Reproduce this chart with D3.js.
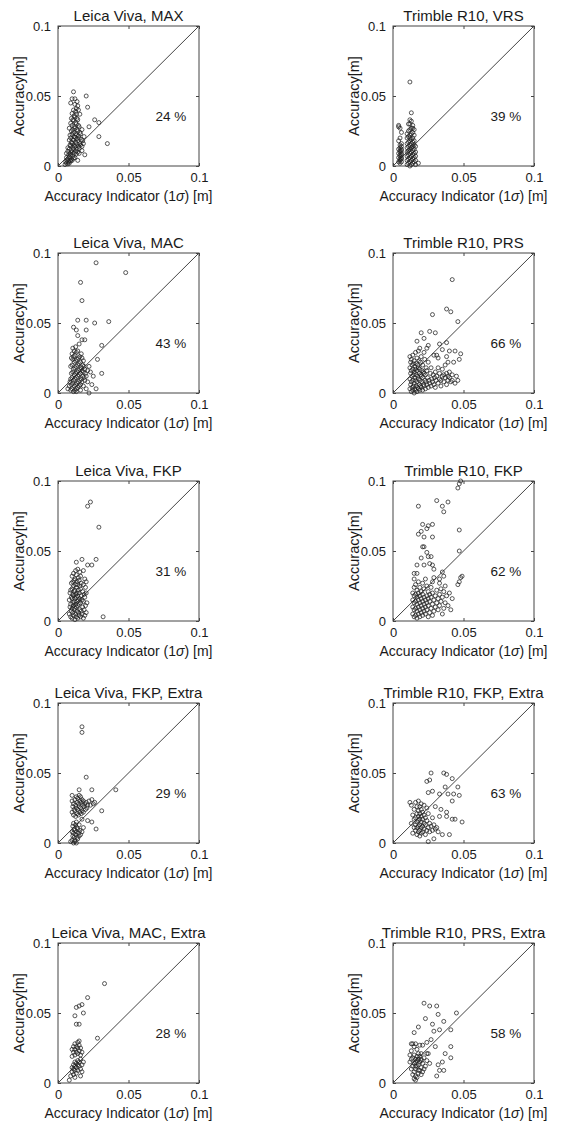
<!DOCTYPE html>
<html>
<head>
<meta charset="utf-8">
<script src="https://cdn.jsdelivr.net/npm/d3@7"></script>
<style>
  body { margin: 0; background: #fff; }
  text { font-family: "Liberation Sans", Arial, sans-serif; fill: #1a1a1a; }
</style>
</head>
<body>
<div id="chart"></div>
<script>
// values in millimetres, shown on axes as metres
var tickVals = [0, 50, 100];
var tickLabels = ["0", "0.05", "0.1"];

var titles = ["Leica Viva, MAX", "Trimble R10, VRS",
  "Leica Viva, MAC", "Trimble R10, PRS",
  "Leica Viva, FKP", "Trimble R10, FKP",
  "Leica Viva, FKP, Extra", "Trimble R10, FKP, Extra",
  "Leica Viva, MAC, Extra", "Trimble R10, PRS, Extra"];

var percents = [24, 39, 43, 66, 31, 62, 29, 63, 28, 58];

var leicaMax = [[5,1],[5.5,3],[6,2],[6.5,4],[6,6],[7,1.5],[7.5,3],[7,5],[7.5,8],[7,10.5],[8,2],[8.5,4],[8,6.5],[8.5,9],[8,12],
  [8.5,15],[8,18.5],[8.5,22],[9,3.5],[9.5,5],[9,8],[9.5,11],[9,14.5],[9.5,17],[9,20],[9.5,25],[9,30.5],[9.5,34],[9,45],[10,4],
  [10.5,7],[10,10],[10.5,13.5],[10,16],[10.5,19],[10,22.5],[10.5,26],[10,29],[10.5,33],[10,37.5],[10,48],[11,5.5],[11.5,9],
  [11,12],[11.5,15],[11,18.5],[11.5,21],[11,24],[11.5,28],[11,32.5],[11.5,36],[11,40],[11,53],[12,6],[12.5,10.5],[12,14],
  [12.5,17],[12,20.5],[12.5,23],[12,27],[12.5,31],[12,35],[12.5,39],[12,44],[13,8.5],[13.5,12],[13,16],[13.5,19.5],[13,22],
  [13.5,26],[13,30],[13.5,34],[13,41],[13.5,46],[14,10],[14.5,14],[14,18],[14.5,21.5],[14,25],[14.5,29],[14,33],[14.5,40],
  [14,43],[15,12.5],[15.5,16],[15,20],[15.5,24],[15,28],[15.5,37],[16,15],[16.5,19],[16,23],[17,14],[17.5,18],[17,26],[18,16],
  [18.5,21],[19,8],[20,50],[21,42],[22,28],[26,33],[29,31],[29,21],[35,16],[14,4],[6,9],[7,13],[8,27],[13,37],[12,48],[15,9],
  [17,11]];

var trimbleVrs = [[4,3],[4,6],[4,9],[4,12],[4,28],[5,2],[5,4],[5,5],[5,7],[5,8],[5,10],[5,11],[5,13],[5,15],[5,27],[6,3],[6,5],
  [6,6],[6,8],[6,9],[6,11],[6,12],[6,14],[6,16],[4,29],[5,20],[6,24],[4,18],
  [10,1],[10,4],[10,7],[10,10],[10,13],[10,16],[10,20],[11,2],[11,5],[11,8],[11,11],[11,14],[11,17],[11,21],[11,25],[12,0],[12,3],
  [12,6],[12,9],[12,12],[12,15],[12,18],[12,22],[12,26],[12,30],[12,33],[12,60],[13,1],[13,4],[13,7],[13,10],[13,13],[13,16],
  [13,19],[13,23],[13,27],[13,38],[14,2],[14,5],[14,8],[14,11],[14,14],[14,17],[14,20],[14,24],[14,29],[15,3],[15,6],[15,9],
  [15,12],[15,15],[15,18],[15,22],[15,26],[16,1],[16,4],[16,7],[16,10],[16,14],[18,2],[13,32],[11,30],[14,27],[12,20],[10,23]];

var leicaMac = [[7,3],[8,5],[8.5,8],[9,2],[9.5,6],[9,10],[9.5,14],[9,19],[9.5,25],[10,3],[10.5,7],[10,11],[10.5,15],[10,20],
  [10.5,24],[10,28],[10.5,32],[11,1],[11.5,5],[11,9],[11.5,13],[11,17],[11.5,22],[11,26],[11.5,30],[11,47],[12,2],[12.5,6],
  [12,10],[12.5,14],[12,18],[12.5,23],[12,27],[12.5,33],[13,3],[13.5,7],[13,11],[13.5,15],[13,19],[13.5,24],[13,29],[13,45],
  [14,4],[14.5,8],[14,12],[14.5,16],[14,20],[14.5,25],[14,30],[14,41],[14,52],[15,5],[15.5,9],[15,13],[15.5,17],[15,21],
  [15.5,26],[15,35],[16,6],[16.5,10],[16,14],[16.5,18],[16,22],[16.5,28],[16,79],[17,8],[17.5,12],[17,16],[17.5,20],[17,25],
  [17,38],[17,66],[18,5],[18.5,11],[18,15],[18.5,19],[18,23],[19,9],[19.5,14],[19,17],[19,38],[20,12],[20,45],[20,52],[21,8],
  [21,16],[22,0],[22,19],[24,6],[25,12],[26,50],[27,93],[27,3],[28,24],[31,34],[31,14],[36,51],[48,86],[23,15],[20,3],[13,1],
  [16,2]];

var trimblePrs = [[12,3],[12.5,6],[12,10],[12.5,14],[12,18],[12.5,22],[12,26],[13,1],[13.5,4],[13,8],[13.5,12],[13,16],[13.5,20],
  [13,24],[14,2],[14.5,5],[14,9],[14.5,13],[14,17],[14.5,21],[14,27],[15,0],[15.5,3],[15,7],[15.5,11],[15,15],[15.5,19],[15,23],
  [16,2],[16.5,5],[16,9],[16.5,13],[16,17],[16.5,21],[16,29],[17,1],[17.5,4],[17,8],[17.5,12],[17,16],[17.5,20],[17,25],[18,3],
  [18.5,6],[18,10],[18.5,14],[18,18],[18.5,23],[18,30],[19,2],[19.5,5],[19,9],[19.5,13],[19,17],[19.5,22],[20,4],[20.5,8],
  [20,12],[20.5,16],[20,26],[21,2],[21.5,6],[21,11],[21.5,15],[21,20],[22,5],[22.5,9],[22,14],[22.5,24],[23,3],[23.5,8],[23,13],
  [23.5,18],[24,6],[24.5,11],[24,16],[24,32],[25,4],[25.5,9],[25,22],[26,7],[26.5,14],[27,5],[27.5,10],[27,18],[28,8],[28.5,13],
  [29,6],[29.5,11],[30,4],[30.5,9],[30,15],[31,12],[32,7],[32,18],[33,10],[33,14],[34,5],[34,9],[35,12],[35,17],[36,8],[36,13],
  [37,11],[37,20],[38,6],[38,14],[39,9],[39,12],[40,11],[40,15],[41,8],[42,13],[43,22],[44,7],[45,12],[46,9],[32,25],[35,31],
  [40,30],[38,26],[29,27],
  [42,81],[38,60],[41,58],[28,56],[46,51],[20,43],[22,39],[26,44],[30,43],[17,37],[33,35],[38,36],[44,30],[48,28],[47,24],
  [39,22],[42,9],[31,27],[25,34],[19,32],[22,29]];

var leicaFkp = [[8,5],[8.5,10],[8,15],[8.5,20],[9,3],[9.5,7],[9,12],[9.5,17],[9,22],[9.5,27],[10,2],[10.5,6],[10,9],[10.5,13],
  [10,16],[10.5,19],[10,23],[10.5,28],[10,32],[11,4],[11.5,8],[11,11],[11.5,14],[11,18],[11.5,21],[11,25],[11.5,29],[11,34],
  [12,1],[12.5,5],[12,9],[12.5,12],[12,16],[12.5,19],[12,22],[12.5,26],[12,30],[12.5,36],[13,3],[13.5,7],[13,10],[13.5,14],
  [13,17],[13.5,20],[13,24],[13.5,28],[13,33],[13,42],[14,2],[14.5,6],[14,11],[14.5,15],[14,18],[14.5,22],[14,26],[14.5,31],
  [14,37],[15,4],[15.5,8],[15,12],[15.5,16],[15,20],[15.5,25],[15,29],[15.5,35],[16,3],[16.5,7],[16,13],[16.5,18],[16,23],
  [16.5,27],[16,32],[17,5],[17.5,10],[17,15],[17.5,21],[17,44],[18,2],[18.5,8],[18,14],[18.5,19],[18,26],[19,4],[19.5,11],
  [19,17],[19.5,24],[19,30],[20,6],[20.5,13],[20,20],[21,40],[21,82],[23,85],[24,40],[27,44],[29,67],[32,3],[18,36],[20,28]];

var trimbleFkp = [[14,5],[14,10],[14,15],[14,20],[15,3],[15,8],[15,13],[15,18],[15,24],[15,30],[16,4],[16,9],[16,14],[16,19],
  [16,26],[17,2],[17,7],[17,12],[17,17],[17,22],[17,34],[18,5],[18,10],[18,15],[18,20],[18,28],[19,3],[19,8],[19,13],[19,18],
  [19,24],[20,6],[20,11],[20,16],[20,21],[21,4],[21,9],[21,14],[21,19],[21,27],[22,7],[22,12],[22,17],[22,23],[23,5],[23,10],
  [23,15],[23,30],[24,8],[24,13],[24,18],[24,25],[25,3],[25,11],[25,16],[25,21],[26,6],[26,14],[26,19],[27,9],[27,17],[27,24],
  [28,4],[28,12],[28,20],[28,28],[29,7],[29,15],[29,31],[30,10],[30,18],[31,13],[31,22],[32,8],[32,16],[33,11],[33,19],[33,27],
  [34,14],[34,23],[35,5],[35,17],[36,9],[36,21],[37,13],[37,25],[38,18],[39,11],[40,20],[41,8],[42,16],[46,26],[47,28],
  [46,95],[47,98],[48,100],[31,86],[39,85],[35,82],[36,78],[18,82],[28,69],[25,68],[21,69],[24,66],[20,64],[18,62],[22,60],
  [28,60],[47,65],[21,53],[22,53],[24,49],[27,46],[25,46],[47,50],[20,45],[26,41],[22,40],[28,40],[29,37],[35,35],[49,32],
  [48,31],[17,40],[15,34],[36,32],[33,30]];

var leicaFkpExtra = [[10,30],[10.5,26],[10,22],[11,28],[11.5,24],[11,20],[12,31],[12.5,27],[12,23],[12.5,19],[13,33],[13.5,29],
  [13,25],[13.5,21],[14,32],[14.5,28],[14,24],[14.5,20],[15,34],[15.5,30],[15,26],[15.5,22],[16,33],[16.5,29],[16,25],[16.5,21],
  [17,31],[17.5,27],[17,23],[18,30],[18.5,26],[18,22],[19,28],[19.5,24],[20,29],[20.5,25],[21,27],[22,30],[23,27],[24,31],
  [25,28],[26,29],
  [10,2],[10.5,5],[10,8],[10.5,12],[11,0],[11.5,4],[11,7],[11.5,10],[11,14],[12,2],[12.5,6],[12,9],[12.5,13],[13,0],[13.5,4],
  [13,8],[13.5,11],[13,15],[14,3],[14.5,7],[14,10],[15,5],[15.5,9],[15,13],[16,6],[17,8],[18,11],
  [17,83],[17,79],[20,47],[24,38],[15,38],[41,38],[31,23],[27,10],[24,15],[21,16],[10,34],[9,1],[12,1],[17,17]];

var trimbleFkpExtra = [[13,14],[13,27],[14,7],[14,20],[15,11],[15,17],[15,24],[16,9],[16,13],[16,18],[16,29],[17,6],[17,11],
  [17,15],[17,21],[17,26],[18,8],[18,12],[18,16],[18,19],[18,23],[18,30],[19,5],[19,9],[19,13],[19,17],[19,21],[19,26],[20,7],
  [20,11],[20,15],[20,19],[20,24],[20,28],[21,8],[21,12],[21,17],[21,22],[22,10],[22,14],[22,20],[22,27],[23,6],[23,13],[23,18],
  [24,9],[24,16],[24,25],[25,11],[25,21],[26,8],[26,14],[27,12],[28,9],[28,18],[29,3],[29,13],[30,10],[31,11],[32,8],[30,26],
  [25,1],
  [27,50],[36,50],[38,49],[42,46],[24,44],[26,45],[46,40],[37,40],[25,36],[28,37],[33,35],[39,35],[43,35],[47,34],[42,30],
  [12,29],[34,24],[38,19],[42,17],[44,17],[49,15],[38,22],[35,6],[40,6],[33,19]];

var leicaMacExtra = [[33,71],[21,61],[17,56],[15,55],[13,54],[18,50],[12,48],[15,42],[13,42],[28,32],[8,2],
  [10,24],[10,19],[11,26],[11,22],[12,28],[12,24],[12,20],[13,26],[13,22],[14,29],[14,25],[14,21],[15,27],[15,23],[16,25],
  [16,20],[17,22],[15,30],
  [9,5],[10,8],[10,11],[11,6],[11,10],[11,13],[12,9],[12,12],[12,15],[13,7],[13,11],[13,14],[14,9],[14,13],[14,16],[15,12],
  [15,15],[16,10],[16,17],[17,8],[17,13],[18,15],[16,5],[12,4]];

var trimblePrsExtra = [[12,20],[12,15],[13,10],[13,17],[13,23],[14,6],[14,12],[14,18],[15,3],[15,8],[15,14],[15,20],[15,26],
  [16,2],[16,5],[16,10],[16,15],[16,17],[16,28],[17,4],[17,12],[17,16],[17,19],[17,24],[18,7],[18,13],[18,17],[18,21],[19,9],
  [19,15],[19,27],[20,6],[20,11],[20,16],[20,21],[21,8],[21,14],[22,10],[22,18],[23,12],[24,16],[25,21],[26,14],[16,12],[18,9],
  [19,19],[14,28],
  [22,57],[26,55],[31,55],[32,49],[45,50],[23,46],[36,44],[18,40],[28,42],[33,38],[29,37],[41,38],[15,36],[24,29],[27,31],
  [13,28],[21,27],[30,26],[41,26],[37,21],[41,18],[32,13],[35,15],[33,9],[31,5],[36,9],[24,21],[20,17]];

var series = [leicaMax, trimbleVrs, leicaMac, trimblePrs, leicaFkp, trimbleFkp,
  leicaFkpExtra, trimbleFkpExtra, leicaMacExtra, trimblePrsExtra];

var colLeft = [58, 393];
var rowTop = [26, 253, 481, 703, 943];
var w = 141, h = 140;

var svg = d3.select("#chart").append("svg")
  .attr("width", 561)
  .attr("height", 1127);

svg.append("rect").attr("width", 561).attr("height", 1127).attr("fill", "#fff");

var x = d3.scaleLinear().domain([0, 100]).range([0, w]);
var y = d3.scaleLinear().domain([0, 100]).range([h, 0]);

series.forEach(function(pts, i) {
  var g = svg.append("g")
    .attr("transform", "translate(" + colLeft[i % 2] + "," + rowTop[Math.floor(i / 2)] + ")");

  // axes with inward ticks
  var fmt = function(d, k) { return tickLabels[k]; };
  var ax = g.append("g").attr("transform", "translate(0," + h + ")")
    .call(d3.axisBottom(x).tickValues(tickVals).tickFormat(fmt).tickSizeInner(-3).tickSizeOuter(0).tickPadding(7));
  var ay = g.append("g")
    .call(d3.axisLeft(y).tickValues(tickVals).tickFormat(fmt).tickSizeInner(-3).tickSizeOuter(0).tickPadding(7));
  var at = g.append("g")
    .call(d3.axisTop(x).tickValues(tickVals).tickFormat("").tickSizeInner(-3).tickSizeOuter(0));
  var ar = g.append("g").attr("transform", "translate(" + w + ",0)")
    .call(d3.axisRight(y).tickValues(tickVals).tickFormat("").tickSizeInner(-3).tickSizeOuter(0));
  [ax, ay, at, ar].forEach(function(a) {
    a.select(".domain").remove();
    a.selectAll("line").attr("stroke", "#444");
    a.selectAll("text").attr("font-size", 13).attr("fill", "#1a1a1a")
      .attr("font-family", "Liberation Sans, Arial, sans-serif");
  });

  // box
  g.append("rect")
    .attr("width", w).attr("height", h)
    .attr("fill", "none").attr("stroke", "#444").attr("stroke-width", 1);

  // 1:1 line
  g.append("line")
    .attr("x1", x(0)).attr("y1", y(0))
    .attr("x2", x(100)).attr("y2", y(100))
    .attr("stroke", "#444").attr("stroke-width", 1);

  g.selectAll("circle.pt").data(pts).enter().append("circle")
    .attr("class", "pt")
    .attr("cx", function(d) { return x(d[0]); })
    .attr("cy", function(d) { return y(d[1]); })
    .attr("r", 2)
    .attr("fill", "none")
    .attr("stroke", "#222")
    .attr("stroke-width", 0.75);

  g.append("text")
    .attr("x", x(80)).attr("y", y(35))
    .attr("text-anchor", "middle")
    .attr("dominant-baseline", "middle")
    .attr("font-size", 13.5)
    .text(percents[i] + " %");

  g.append("text")
    .attr("x", w / 2).attr("y", -5)
    .attr("text-anchor", "middle")
    .attr("font-size", 15)
    .text(titles[i]);

  var xl = g.append("text")
    .attr("x", w / 2).attr("y", h + 35)
    .attr("text-anchor", "middle")
    .attr("font-size", 14);
  xl.append("tspan").text("Accuracy Indicator (1");
  xl.append("tspan").attr("font-style", "italic").text("σ");
  xl.append("tspan").text(") [m]");

  g.append("text")
    .attr("transform", "translate(-34," + (h / 2) + ") rotate(-90)")
    .attr("text-anchor", "middle")
    .attr("font-size", 14.5)
    .text("Accuracy[m]");
});
</script>
</body>
</html>
